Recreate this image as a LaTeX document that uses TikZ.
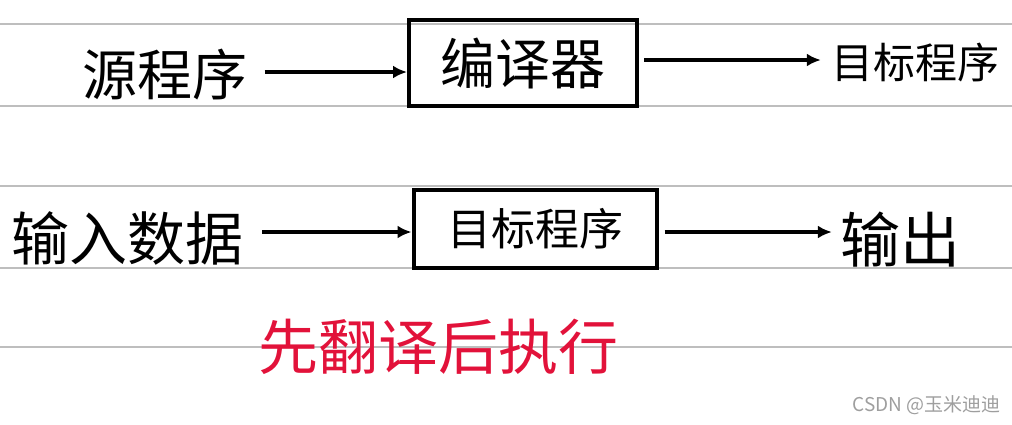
\documentclass[tikz,border=0pt]{standalone}
\usepackage{fontspec}
\setmainfont{Noto Sans CJK SC}
\newfontfamily\cjk{Noto Sans CJK SC}
\usepackage{tikz}
\usetikzlibrary{positioning, arrows.meta}
\definecolor{inkred}{RGB}{226,18,58}
\definecolor{ruleline}{RGB}{190,190,190}

\begin{document}
\begin{tikzpicture}[
  x=1pt, y=-1pt,
  lbl/.style={inner sep=0pt, font=\cjk\fontsize{#1}{#1}\selectfont},
  box/.style={draw, line width=4pt, inner sep=0pt},
  a/.style={line width=3.4pt, -{Latex[length=14pt, width=13pt]}, black}
]
\useasboundingbox (0,0) rectangle (1012,424);
\foreach \y in {24,106,186,268,347} \draw[ruleline, line width=1.6pt] (0,\y) -- (1012,\y);
% first row
\node[lbl=55pt] (src) at (165,75) {源程序};
\node[box, lbl=55pt, minimum width=228pt, minimum height=86pt] (cmp) at (523,63) {编译器};
\node[lbl=42pt] (tgt) at (915,62) {目标程序};
\draw[a] ([xshift=17pt, yshift=3pt]src.east) -- ([yshift=3pt]src.east -| cmp.west);
\draw[a] ([xshift=5pt, yshift=3pt]cmp.east) -- ([xshift=-10pt, yshift=3pt]cmp.east -| tgt.west);
% second row
\node[lbl=58pt] (inp) at (128,238) {输入数据};
\node[box, lbl=44pt, minimum width=243pt, minimum height=78pt] (prog) at (535,229) {目标程序};
\node[lbl=60pt] (out) at (900,240) {输出};
\draw[a] ([xshift=18pt, yshift=6pt]inp.east) -- ([yshift=6pt]inp.east -| prog.west);
\draw[a] ([xshift=6pt, yshift=-3pt]prog.east) -- ([xshift=-8pt, yshift=-3pt]prog.east -| out.west);
% note
\node[lbl=60pt, text=inkred] (note) at (438,347) {先翻译后执行};
\node[lbl=19pt, text=black!38, anchor=east] (mark) at (1001,405) {CSDN @玉米迪迪};
\end{tikzpicture}
\end{document}
